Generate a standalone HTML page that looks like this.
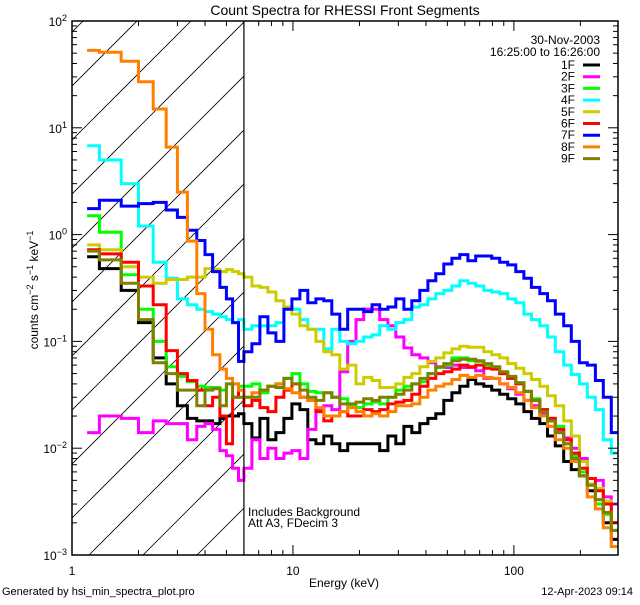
<!DOCTYPE html>
<html><head><meta charset="utf-8"><style>
html,body{margin:0;padding:0;background:#fff;}
svg text{font-family:"Liberation Sans",sans-serif;fill:#000;}
</style></head><body>
<svg id="chart" width="640" height="600" viewBox="0 0 640 600" xmlns="http://www.w3.org/2000/svg">
<defs><clipPath id="plotclip"><rect x="72" y="21" width="546" height="534"/></clipPath>
<clipPath id="hatchclip"><rect x="72" y="21" width="172" height="534"/></clipPath></defs>
<rect width="640" height="600" fill="#fff"/>
<text x="345" y="15" font-size="14" text-anchor="middle">Count Spectra for RHESSI Front Segments</text>
<g id="hatch" clip-path="url(#hatchclip)"></g>
<g id="series" clip-path="url(#plotclip)"></g>
<g id="axes"></g>
<text transform="translate(38,290) rotate(-90)" font-size="12" text-anchor="middle">counts cm<tspan baseline-shift="super" font-size="9">−2</tspan> s<tspan baseline-shift="super" font-size="9">−1</tspan> keV<tspan baseline-shift="super" font-size="9">−1</tspan></text>
<text x="344" y="587" font-size="12" text-anchor="middle">Energy (keV)</text>
<text x="2" y="595" font-size="11">Generated by hsi_min_spectra_plot.pro</text>
<text x="633" y="595" font-size="11" text-anchor="end">12-Apr-2023 09:14</text>
<text x="248" y="516" font-size="12">Includes Background</text>
<text x="248" y="527" font-size="12">Att A3, FDecim 3</text>
<text x="600" y="44" font-size="12" text-anchor="end">30-Nov-2003</text>
<text x="600" y="56" font-size="12" text-anchor="end">16:25:00 to 16:26:00</text>
<g id="legend"></g>
</svg>
<script>
const energyEdges = [1.17,1.33,1.67,2.0,2.33,2.67,3.0,3.33,3.67,4.0,4.33,4.67,5.0,5.33,5.67,6.0,
 6.52,7.09,7.70,8.37,9.10,9.89,10.75,11.68,12.70,13.80,15.0,16.3,17.7,19.3,20.9,22.8,24.7,26.9,29.2,31.8,34.5,37.5,40.8,44.3,48.2,52.4,56.9,61.9,67.2,73.1,79.4,86.3,93.8,102,111,120,131,142,154,168,182,198,215,234,254,276,300];
const segmentNames = ["1F","2F","3F","4F","5F","6F","7F","8F","9F"];
const cnt1F = [0.62,0.48,0.3,0.15,0.07,0.04,0.025,0.019,0.018,0.018,0.017,0.019,0.02,0.02,0.021,
 0.017,0.0125,0.019,0.012,0.014,0.019,0.026,0.023,0.012,0.011,0.013,0.011,0.0095,0.011,0.011,0.011,0.011,0.0095,0.013,0.011,0.016,0.014,0.017,0.019,0.021,0.028,0.033,0.038,0.044,0.04,0.038,0.035,0.032,0.029,0.026,0.022,0.019,0.017,0.013,0.0105,0.0075,0.0063,0.0055,0.004,0.003,0.002,0.0014];
const cnt2F = [0.014,0.02,0.019,0.014,0.018,0.017,0.017,0.012,0.016,0.017,0.015,0.0095,0.0085,0.0065,0.005,
 0.0065,0.012,0.008,0.01,0.008,0.009,0.0095,0.008,0.015,0.023,0.025,0.023,0.052,0.1,0.16,0.2,0.2,0.16,0.14,0.11,0.087,0.075,0.07,0.063,0.057,0.057,0.06,0.057,0.057,0.053,0.045,0.045,0.04,0.036,0.032,0.028,0.025,0.021,0.018,0.014,0.0125,0.01,0.008,0.0052,0.005,0.0035,0.003];
const cnt3F = [1.5,1.05,0.42,0.2,0.1,0.058,0.047,0.042,0.038,0.037,0.037,0.035,0.04,0.04,0.038,
 0.038,0.04,0.033,0.038,0.04,0.045,0.05,0.04,0.034,0.033,0.033,0.03,0.029,0.025,0.024,0.026,0.027,0.026,0.03,0.035,0.038,0.04,0.042,0.05,0.057,0.06,0.07,0.07,0.066,0.065,0.06,0.057,0.05,0.046,0.041,0.034,0.029,0.023,0.019,0.016,0.011,0.0085,0.006,0.0046,0.003,0.0024,0.0017];
const cnt4F = [6.8,5.0,3.0,1.2,0.55,0.39,0.25,0.22,0.2,0.19,0.18,0.17,0.16,0.15,0.16,
 0.13,0.14,0.14,0.14,0.15,0.21,0.2,0.16,0.13,0.13,0.085,0.13,0.1,0.095,0.1,0.11,0.115,0.14,0.13,0.15,0.16,0.21,0.22,0.25,0.28,0.3,0.33,0.37,0.35,0.33,0.3,0.29,0.28,0.25,0.23,0.18,0.16,0.14,0.11,0.08,0.06,0.049,0.04,0.03,0.023,0.012,0.009];
const cnt5F = [0.8,0.72,0.5,0.4,0.35,0.38,0.38,0.4,0.4,0.48,0.47,0.45,0.47,0.45,0.43,
 0.4,0.33,0.32,0.29,0.24,0.21,0.18,0.14,0.13,0.1,0.08,0.075,0.055,0.06,0.04,0.046,0.043,0.037,0.037,0.04,0.046,0.05,0.058,0.065,0.07,0.078,0.085,0.09,0.088,0.088,0.08,0.075,0.07,0.062,0.056,0.05,0.044,0.038,0.031,0.025,0.018,0.013,0.0075,0.0046,0.0042,0.0032,0.002];
const cnt6F = [0.72,0.66,0.55,0.33,0.22,0.082,0.05,0.043,0.035,0.025,0.03,0.02,0.011,0.03,0.035,
 0.025,0.028,0.024,0.022,0.03,0.035,0.04,0.03,0.028,0.022,0.018,0.02,0.022,0.02,0.02,0.023,0.022,0.023,0.026,0.027,0.028,0.032,0.038,0.045,0.05,0.052,0.055,0.06,0.058,0.06,0.056,0.055,0.05,0.045,0.04,0.034,0.028,0.023,0.019,0.015,0.012,0.009,0.0065,0.0052,0.004,0.003,0.002];
const cnt7F = [1.75,2.1,1.85,1.95,2.0,1.7,1.45,1.1,0.88,0.65,0.45,0.32,0.25,0.15,0.065,
 0.08,0.095,0.17,0.12,0.1,0.2,0.25,0.3,0.23,0.25,0.24,0.18,0.13,0.2,0.2,0.19,0.22,0.2,0.21,0.25,0.2,0.24,0.3,0.37,0.43,0.53,0.6,0.65,0.57,0.63,0.63,0.6,0.55,0.52,0.45,0.39,0.32,0.28,0.24,0.18,0.14,0.1,0.063,0.06,0.043,0.03,0.014];
const cnt8F = [53,51,42,27,15,6.6,2.5,0.87,0.28,0.13,0.075,0.055,0.045,0.04,0.035,
 0.03,0.033,0.035,0.038,0.04,0.036,0.033,0.03,0.028,0.024,0.02,0.02,0.022,0.024,0.022,0.02,0.021,0.02,0.022,0.025,0.025,0.026,0.03,0.035,0.038,0.04,0.044,0.048,0.046,0.048,0.046,0.045,0.04,0.037,0.033,0.028,0.024,0.02,0.016,0.012,0.01,0.0075,0.0055,0.0035,0.0027,0.0018,0.0012];
const cnt9F = [0.7,0.58,0.35,0.16,0.063,0.05,0.035,0.035,0.025,0.035,0.036,0.025,0.04,0.03,0.03,
 0.03,0.03,0.035,0.038,0.037,0.045,0.04,0.035,0.03,0.028,0.033,0.03,0.026,0.026,0.027,0.029,0.028,0.03,0.03,0.032,0.035,0.04,0.045,0.05,0.058,0.062,0.066,0.068,0.068,0.066,0.062,0.058,0.052,0.047,0.041,0.034,0.028,0.022,0.018,0.014,0.011,0.008,0.0055,0.0045,0.0033,0.0025,0.0017];
const seriesColors = ["#000000","#ff00ff","#00ff00","#00ffff","#cccc00","#ff0000","#0000ff","#ff8000","#808000"];
const yTickExps = [-3,-2,-1,0,1,2];
const xTickLabels = ["1","10","100"];

const NS="http://www.w3.org/2000/svg";
const X0=72,X1=618,Y0=555,Y1=21,XMIN=1,XMAX=296,YMIN=1e-3,YMAX=100;
function xs(e){return X0+(Math.log10(e)-Math.log10(XMIN))/(Math.log10(XMAX)-Math.log10(XMIN))*(X1-X0);}
function ys(v){return Y0-(Math.log10(v)-Math.log10(YMIN))/(Math.log10(YMAX)-Math.log10(YMIN))*(Y0-Y1);}
function mk(tag,attrs,parent){const el=document.createElementNS(NS,tag);for(const k in attrs)el.setAttribute(k,attrs[k]);parent.appendChild(el);return el;}

// hatch
const hatch=document.getElementById('hatch');
for(let c=104;c<=820;c+=54){
  const ln=mk('line',{x1:c-600,y1:600,x2:c,y2:0,stroke:'#000','stroke-width':0.8},hatch);
  
  
}
// series
const allSeries=[cnt1F,cnt2F,cnt3F,cnt4F,cnt5F,cnt6F,cnt7F,cnt8F,cnt9F];
const sg=document.getElementById('series');
allSeries.forEach((vals,i)=>{
  let d='M'+xs(energyEdges[0]).toFixed(1)+','+ys(vals[0]).toFixed(1);
  for(let b=0;b<vals.length;b++){
    d+=' V'+ys(vals[b]).toFixed(1)+' H'+xs(energyEdges[b+1]).toFixed(1);
  }
  const p=mk('path',{d:d,fill:'none',stroke:seriesColors[i],'stroke-width':3,'stroke-linejoin':'miter'},sg);
  
  
});
// axes
const ax=document.getElementById('axes');
const frame=mk('rect',{x:X0,y:Y1,width:X1-X0,height:Y0-Y1,fill:'none',stroke:'#000','stroke-width':1.5},ax);


const vl=mk('line',{x1:xs(6),y1:Y1,x2:xs(6),y2:Y0,stroke:'#000','stroke-width':1.2},ax);


for(let d=0;d<3;d++){
  for(let m=1;m<10;m++){
    const e=Math.pow(10,d)*m; if(e>XMAX)break;
    const L=m===1?10:5, x=xs(e);
    mk('line',{x1:x,y1:Y0,x2:x,y2:Y0-L,stroke:'#000'},ax);
    mk('line',{x1:x,y1:Y1,x2:x,y2:Y1+L,stroke:'#000'},ax);
  }
  const t=mk('text',{x:xs(Math.pow(10,d)),y:575,'font-size':12,'text-anchor':'middle'},ax);
  t.textContent=xTickLabels[d];
  
  
}
yTickExps.forEach(ex=>{
  for(let m=1;m<10;m++){
    const v=Math.pow(10,ex)*m; if(v>YMAX)break;
    const L=m===1?10:5, y=ys(v);
    mk('line',{x1:X0,y1:y,x2:X0+L,y2:y,stroke:'#000'},ax);
    mk('line',{x1:X1,y1:y,x2:X1-L,y2:y,stroke:'#000'},ax);
  }
  const t=mk('text',{x:67,y:ys(Math.pow(10,ex))+5,'font-size':12,'text-anchor':'end'},ax);
  
  
  t.appendChild(document.createTextNode('10'));
  const s=mk('tspan',{'baseline-shift':'super','font-size':9},t);
  s.textContent=(ex<0?'−'+(-ex):String(ex));
});
// legend
const lg=document.getElementById('legend');
segmentNames.forEach((n,i)=>{
  const y=65+i*11.7;
  const t=mk('text',{x:575,y:y+4,'font-size':12,'text-anchor':'end'},lg);
  t.textContent=n;
  
  
  const l=mk('line',{x1:583,y1:y,x2:600,y2:y,stroke:seriesColors[i],'stroke-width':3},lg);
  
  
});
</script>
</body></html>
